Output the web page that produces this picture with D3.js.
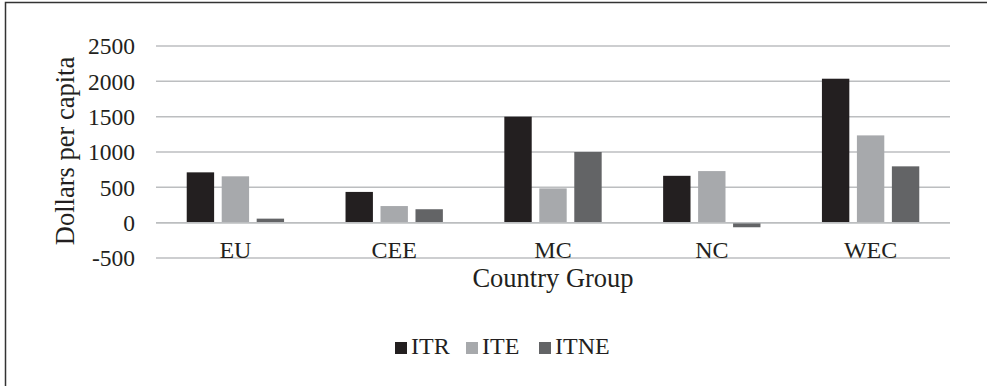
<!DOCTYPE html>
<html>
<head>
<meta charset="utf-8">
<script src="https://cdn.jsdelivr.net/npm/d3@7"></script>
<style>
  body { margin: 0; background: #fff; }
  text { font-family: "Liberation Serif", "Times New Roman", serif; fill: #231f20; }
</style>
</head>
<body>
<svg id="chart"></svg>
<script>
// 数据
const groups = ['EU', 'CEE', 'MC', 'NC', 'WEC'];
const seriesNames = ['ITR', 'ITE', 'ITNE'];
const itr = [712, 435, 1500, 663, 2037];
const ite = [656, 235, 485, 730, 1235];
const itne = [57, 190, 1000, -65, 797];
const yTicks = [-500, 0, 500, 1000, 1500, 2000, 2500];

const colors = {ITR: '#231f20', ITE: '#a7a9ac', ITNE: '#636466'};

const width = 987, height = 386;
const margin = {left: 156, right: 37, top: 46, bottom: 128};

let svg = d3.select('#chart')
    .attr('width', width)
    .attr('height', height);

// 边框 (只有上边和左边)
svg.append('path')
    .attr('d', 'M5.5,' + height + 'V2.5H' + width)
    .attr('fill', 'none')
    .attr('stroke', '#333')
    .attr('stroke-width', 1.5);

let x0 = d3.scaleBand()
    .domain(groups)
    .range([margin.left, width - margin.right])
    .paddingInner(0.387)
    .paddingOuter(0.1935);

let x1 = d3.scaleBand()
    .domain(seriesNames)
    .range([0, x0.bandwidth()])
    .paddingInner(0.217);

let y = d3.scaleLinear()
    .domain([-500, 2500])
    .range([258, 46]);

// 网格线
svg.append('g')
    .selectAll('line')
    .data(yTicks)
    .enter()
    .append('line')
    .attr('x1', margin.left)
    .attr('x2', width - margin.right)
    .attr('y1', d => y(d))
    .attr('y2', d => y(d))
    .attr('stroke', '#bcbec0')
    .attr('stroke-width', 1.5);

// y 轴标签
svg.append('g')
    .selectAll('text')
    .data(yTicks)
    .enter()
    .append('text')
    .attr('x', 135)
    .attr('y', d => y(d))
    .attr('dy', '0.35em')
    .attr('text-anchor', 'end')
    .style('font-size', '23.5px')
    .text(d => d);

// 柱子
let rows = groups.map((g, i) => ({group: g, ITR: itr[i], ITE: ite[i], ITNE: itne[i]}));

let gBars = svg.append('g');
rows.forEach(function (row) {
    gBars.selectAll(null)
        .data(seriesNames.map(s => ({key: s, value: row[s]})))
        .enter()
        .append('rect')
        .attr('x', d => x0(row.group) + x1(d.key))
        .attr('width', x1.bandwidth())
        .attr('y', d => y(Math.max(0, d.value)))
        .attr('height', d => Math.abs(y(d.value) - y(0)))
        .attr('fill', d => colors[d.key]);
});

// 零线
svg.append('line')
    .attr('x1', margin.left)
    .attr('x2', width - margin.right)
    .attr('y1', y(0)).attr('y2', y(0))
    .attr('stroke', '#bcbec0')
    .attr('stroke-width', 1.5);

// 类别标签
svg.append('g')
    .selectAll('text')
    .data(groups)
    .enter()
    .append('text')
    .attr('x', d => x0(d) + x0.bandwidth() / 2)
    .attr('y', y(-500) - 0.5)
    .attr('text-anchor', 'middle')
    .style('font-size', '24px')
    .text(d => d);

// 轴标题
svg.append('text')
    .attr('x', (margin.left + width - margin.right) / 2)
    .attr('y', 287)
    .attr('text-anchor', 'middle')
    .style('font-size', '26.5px')
    .text('Country Group');

svg.append('text')
    .attr('transform', 'translate(74,151) rotate(-90)')
    .attr('text-anchor', 'middle')
    .style('font-size', '26.5px')
    .text('Dollars per capita');

// 图例
let legendX = [395, 466, 539];
let gLegend = svg.append('g');
seriesNames.forEach(function (s, i) {
    gLegend.append('rect')
        .attr('x', legendX[i])
        .attr('y', 342)
        .attr('width', 12)
        .attr('height', 12)
        .attr('fill', colors[s]);
    gLegend.append('text')
        .attr('x', legendX[i] + 16)
        .attr('y', 354)
        .style('font-size', '24px')
        .text(s);
});
</script>
</body>
</html>
